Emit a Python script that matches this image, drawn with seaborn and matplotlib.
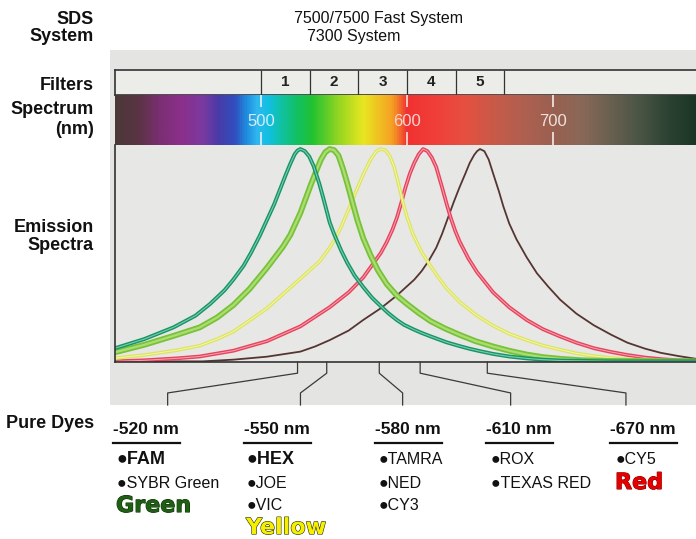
import numpy as np
import matplotlib
matplotlib.use('Agg')
import matplotlib.pyplot as plt
import matplotlib.patheffects as pe
from matplotlib.colors import LinearSegmentedColormap
from matplotlib.patches import Rectangle
from matplotlib.lines import Line2D
from matplotlib import font_manager
import seaborn as sns

# ====== DATA (wavelengths in nm, emission relative to peak)
fam_nm = [400, 420, 440, 455, 465, 475, 481, 488, 493, 499, 504, 509, 513, 517, 520, 523, 525,
          527, 530, 533, 536, 540, 543, 547, 550, 555, 559, 564, 570, 576, 582, 587, 593, 598,
          604, 610, 616, 627, 636, 643, 650, 659, 670, 682, 693, 705, 740, 798]
fam_val = [0.062, 0.105, 0.16, 0.215, 0.27, 0.335, 0.385, 0.45, 0.51, 0.59, 0.665, 0.74, 0.81,
           0.88, 0.93, 0.975, 0.993, 1.0, 0.99, 0.965, 0.92, 0.835, 0.76, 0.655, 0.60, 0.52,
           0.465, 0.405, 0.35, 0.30, 0.26, 0.228, 0.195, 0.172, 0.152, 0.134, 0.118, 0.09,
           0.072, 0.059, 0.048, 0.035, 0.023, 0.014, 0.008, 0.004, 0.0, 0.0]

hex_nm = [400, 420, 440, 458, 470, 481, 492, 504, 515, 520, 527, 534, 538, 541, 544, 547, 550,
          553, 556, 559, 563, 566, 570, 575, 580, 586, 593, 600, 608, 616, 626, 636, 647, 659,
          670, 682, 693, 705, 720, 740, 798]
hex_val = [0.043, 0.078, 0.12, 0.16, 0.207, 0.265, 0.34, 0.44, 0.54, 0.595, 0.70, 0.83, 0.90,
           0.95, 0.985, 1.0, 0.995, 0.97, 0.91, 0.84, 0.74, 0.665, 0.58, 0.50, 0.43, 0.365,
           0.31, 0.27, 0.228, 0.19, 0.155, 0.125, 0.095, 0.07, 0.05, 0.032, 0.02, 0.012, 0.005,
           0.002, 0.0]

tamra_nm = [400, 420, 442, 458, 470, 481, 492, 504, 527, 540, 547, 551, 555, 559, 565, 570, 575,
            579, 582, 585, 588, 591, 594, 597, 600, 604, 610, 616, 621, 627, 636, 648, 659, 670,
            682, 693, 705, 716, 728, 740, 751, 775, 798]
tamra_val = [0.015, 0.03, 0.052, 0.074, 0.105, 0.14, 0.192, 0.25, 0.39, 0.47, 0.535, 0.58, 0.635,
             0.70, 0.80, 0.88, 0.95, 0.99, 1.0, 0.995, 0.97, 0.92, 0.84, 0.755, 0.68, 0.60,
             0.515, 0.45, 0.40, 0.345, 0.28, 0.215, 0.168, 0.13, 0.10, 0.075, 0.055, 0.038,
             0.025, 0.016, 0.01, 0.003, 0.0]

rox_nm = [400, 420, 442, 458, 481, 504, 527, 547, 560, 570, 582, 586, 590, 593, 596, 599, 602,
          605, 608, 611, 614, 617, 620, 624, 627, 630, 633, 636, 642, 648, 659, 670, 682, 693,
          705, 716, 728, 740, 751, 763, 775, 786, 798]
rox_val = [0.0, 0.005, 0.014, 0.023, 0.05, 0.095, 0.165, 0.255, 0.325, 0.395, 0.51, 0.56, 0.62,
           0.675, 0.745, 0.82, 0.885, 0.935, 0.975, 1.0, 0.99, 0.96, 0.915, 0.82, 0.745, 0.675,
           0.615, 0.565, 0.485, 0.42, 0.325, 0.255, 0.195, 0.152, 0.117, 0.088, 0.062, 0.044,
           0.03, 0.018, 0.01, 0.005, 0.003]

cy5_nm = [400, 460, 481, 504, 527, 537, 547, 560, 570, 582, 593, 605, 610, 615, 620, 624, 628,
          632, 636, 640, 643, 646, 648, 650, 653, 656, 659, 663, 666, 670, 675, 682, 689, 697,
          705, 716, 728, 740, 751, 763, 774, 786, 798]
cy5_val = [0.0, 0.0, 0.008, 0.022, 0.046, 0.07, 0.10, 0.145, 0.195, 0.25, 0.31, 0.385, 0.425,
           0.475, 0.535, 0.60, 0.675, 0.75, 0.82, 0.885, 0.935, 0.972, 0.99, 1.0, 0.99, 0.95,
           0.885, 0.80, 0.73, 0.65, 0.575, 0.49, 0.415, 0.35, 0.29, 0.225, 0.17, 0.125, 0.088,
           0.06, 0.04, 0.025, 0.012]

filter_edges = [500, 533.3, 566.7, 600, 633.3, 666.7]
filter_labels = ['1', '2', '3', '4', '5']
spectrum_ticks = [500, 600, 700]

spectrum_nm = [400, 415, 430, 445, 460, 470, 482, 490, 497, 505, 515, 525, 535, 555, 570, 590,
               600, 620, 640, 660, 680, 700, 720, 740, 760, 780, 798]
spectrum_colors = ['#4b3838', '#5a3444', '#7a2f72', '#8c2f8c', '#7a3aa0', '#4a3aa8', '#3050c0',
                   '#1e90e0', '#30b8f0', '#10c0e0', '#10c29a', '#12c060', '#22c232', '#a0d820',
                   '#e8e620', '#f6a024', '#f03232', '#f03f38', '#e65040', '#c85a48', '#b06050',
                   '#9a6050', '#8a6858', '#6a6050', '#4a5545', '#2c4232', '#1c3626']

dye_headers = ['-520 nm', '-550 nm', '-580 nm', '-610 nm', '-670 nm']
dye_names = [['FAM', 'SYBR Green'], ['HEX', 'JOE', 'VIC'], ['TAMRA', 'NED', 'CY3'],
             ['ROX', 'TEXAS RED'], ['CY5']]
bold_dyes = ['FAM', 'HEX']
colour_words = ['Green', 'Yellow', None, None, 'Red']

# connector lines between emission peaks and dye columns (nm)
conn_top_nm = [525, 545, 581, 609, 655]
conn_bottom_nm = [436, 527, 597, 671, 750]

# ====== FONTS
names = {f.name for f in font_manager.fontManager.ttflist}
NARROW = 'Liberation Sans Narrow' if 'Liberation Sans Narrow' in names else 'Liberation Sans'
SANS = ['Liberation Sans', 'DejaVu Sans']
plt.rcParams['font.family'] = SANS

W, H = 696, 539


def fx(px):
    return px / W


def fy(py):
    return 1 - py / H


fig = plt.figure(figsize=(6.96, 5.39), dpi=100)
fig.patch.set_facecolor('white')
fig.patches.append(Rectangle((fx(110), fy(405)), fx(696) - fx(110), fy(50) - fy(405),
                             transform=fig.transFigure, facecolor='#e4e4e2', edgecolor='none',
                             zorder=-5))

X0 = 115.1  # pixel of 400 nm
XLIM = (400, 798)


def add_ax(top_px, bot_px):
    a = fig.add_axes([fx(X0), fy(bot_px), fx(W) - fx(X0), (bot_px - top_px) / H])
    a.set_xlim(*XLIM)
    a.set_xticks([])
    a.set_yticks([])
    a.patch.set_alpha(0)
    for s in a.spines.values():
        s.set_visible(False)
    return a


ax_filt = add_ax(70, 95)
ax_spec = add_ax(95, 145)
ax_em = add_ax(145, 362)
ax_conn = add_ax(362, 405)

frame_col = '#333333'
# filter row
ax_filt.patch.set_alpha(1)
ax_filt.set_facecolor('#ecece9')
ax_filt.set_ylim(0, 1)
for s in ['top', 'left', 'bottom']:
    ax_filt.spines[s].set_visible(True)
    ax_filt.spines[s].set_color(frame_col)
    ax_filt.spines[s].set_linewidth(1.2)
ax_filt.vlines(filter_edges, 0, 1, color=frame_col, lw=0.9)
for i, lab in enumerate(filter_labels):
    ax_filt.text((filter_edges[i] + filter_edges[i + 1]) / 2, 0.5, lab, ha='center', va='center',
                 fontsize=11, fontweight='bold', color='#222222')

# spectrum band
cmap = LinearSegmentedColormap.from_list(
    'spec', [((w - XLIM[0]) / (XLIM[1] - XLIM[0]), c) for w, c in zip(spectrum_nm, spectrum_colors)])
ax_spec.imshow(np.linspace(0, 1, 800)[None, :], extent=(XLIM[0], XLIM[1], 0, 1), aspect='auto',
               cmap=cmap, interpolation='bilinear')
ax_spec.set_xlim(*XLIM)
ax_spec.set_ylim(0, 1)
tick_cols = ['#d4ecf7', '#f8d4cc', '#eee2dc']
for t, c in zip(spectrum_ticks, tick_cols):
    ax_spec.vlines(t, 0.77, 1.0, color=c, lw=1.3)
    ax_spec.vlines(t, 0.0, 0.27, color=c, lw=1.3)
    ax_spec.text(t, 0.48, str(t), ha='center', va='center', fontsize=12, color=c,
                 fontweight='medium')

# emission spectra
ax_em.patch.set_alpha(1)
ax_em.set_facecolor('#e7e7e5')
for s in ['left', 'bottom']:
    ax_em.spines[s].set_visible(True)
    ax_em.spines[s].set_color(frame_col)
    ax_em.spines[s].set_linewidth(1.2)

curves = [
    (cy5_nm, cy5_val, '#553531', 1.3, None, None),
    (rox_nm, rox_val, '#e8435d', 2.7, '#f5a5b2', 0.7),
    (tamra_nm, tamra_val, '#dde55a', 2.5, '#f3f5b8', 0.7),
    (hex_nm, hex_val, '#78c23a', 4.2, '#acdd72', 1.6),
    (fam_nm, fam_val, '#15946a', 2.8, '#7ccda6', 0.8),
]
for xs, ys, col, lw, inner, ilw in curves:
    sns.lineplot(x=xs, y=ys, ax=ax_em, color=col, lw=lw, solid_capstyle='round',
                 solid_joinstyle='round')
    if inner is not None:
        sns.lineplot(x=xs, y=ys, ax=ax_em, color=inner, lw=ilw, solid_joinstyle='round')
ax_em.set(xlabel='', ylabel='', xticks=[], yticks=[])
ax_em.set_xlim(*XLIM)
ax_em.set_ylim(-0.003, 1.019)

# connectors
ax_conn.set_ylim(1, 0)
for top, bot in zip(conn_top_nm, conn_bottom_nm):
    ax_conn.plot([top, top, bot, bot], [0, 0.26, 0.72, 1.0], color='#3a3a3a', lw=0.9,
                 clip_on=False)

# ====== TEXT
lab_kw = dict(ha='right', va='center', fontsize=13, fontweight='bold', color='#111111')
for txt, y in [('SDS', 19), ('System', 36), ('Filters', 86), ('Spectrum', 110), ('(nm)', 129),
               ('Emission', 227), ('Spectra', 245), ('Pure Dyes', 423)]:
    fig.text(fx(94), fy(y), txt, **lab_kw)

top_size = 13 if NARROW != 'Liberation Sans' else 11.5
fig.text(fx(378), fy(19), '7500/7500 Fast System', ha='center', va='center', fontsize=top_size,
         family=[NARROW, 'DejaVu Sans'], color='#111111')
fig.text(fx(354), fy(36), '7300 System', ha='center', va='center', fontsize=top_size,
         family=[NARROW, 'DejaVu Sans'], color='#111111')

header_x = [113, 244, 375, 486, 610]
bullet_x = [117, 247, 379, 491, 616]
row_y = [460, 483, 506, 528]
renderer = fig.canvas.get_renderer()
word_style = {
    'Green': ('#1f5e14', '#0b3306'),
    'Yellow': ('#f4f000', '#2a2a00'),
    'Red': ('#e40000', '#8a0000'),
}
for i, head in enumerate(dye_headers):
    t = fig.text(fx(header_x[i]), fy(430), head, ha='left', va='center', fontsize=12.5,
                 fontweight='bold', color='#111111')
    bb = t.get_window_extent(renderer)
    fig.add_artist(Line2D([bb.x0 / W, bb.x1 / W + 0.002], [fy(442.5), fy(442.5)],
                          transform=fig.transFigure, color='#111111', lw=1.6))
    for j, name in enumerate(dye_names[i]):
        bold = name in bold_dyes
        fig.text(fx(bullet_x[i]), fy(row_y[j]), '\u25cf' + name, ha='left', va='center',
                 fontsize=13 if bold else 11.5, fontweight='bold' if bold else 'normal',
                 family=SANS, color='#111111')
    word = colour_words[i]
    if word:
        fill, edge = word_style[word]
        fig.text(fx(bullet_x[i] - 1), fy(row_y[len(dye_names[i])]), word, ha='left',
                 va='center', fontsize=16, fontweight='bold', family='DejaVu Sans', color=fill,
                 path_effects=[pe.Stroke(linewidth=0.8, foreground=edge), pe.Normal()])

fig.savefig('out.png', dpi=100)
